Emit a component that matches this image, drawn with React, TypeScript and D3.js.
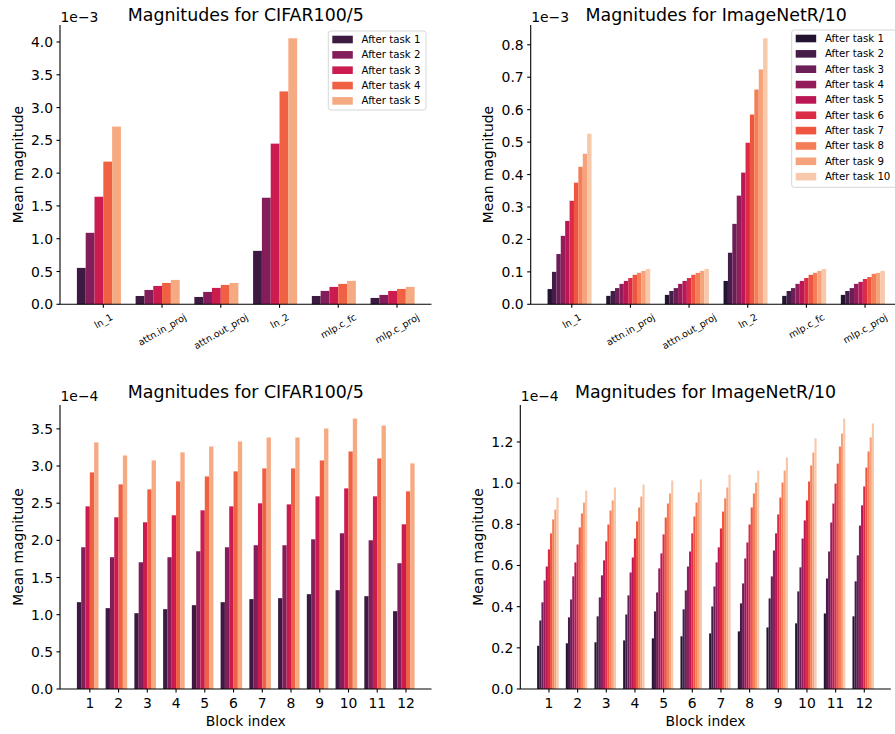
import React, { useEffect, useRef } from 'react';
import * as d3 from 'd3';

// layer names (top row) and block indices (bottom row)
const layerNames = ['ln_1', 'attn.in_proj', 'attn.out_proj', 'ln_2', 'mlp.c_fc', 'mlp.c_proj'];
const blockLabels = ['1', '2', '3', '4', '5', '6', '7', '8', '9', '10', '11', '12'];

// values in units of the offset text (1e-3 top row, 1e-4 bottom row); rows = group, cols = task
const cifarLayer = [
  [0.555, 1.09, 1.64, 2.176, 2.71],
  [0.127, 0.219, 0.28, 0.326, 0.372],
  [0.112, 0.189, 0.25, 0.296, 0.326],
  [0.815, 1.625, 2.45, 3.246, 4.056],
  [0.127, 0.204, 0.265, 0.311, 0.357],
  [0.097, 0.143, 0.204, 0.234, 0.265],
];

const imnetLayer = [
  [0.047, 0.1, 0.155, 0.211, 0.257, 0.319, 0.375, 0.424, 0.464, 0.526],
  [0.026, 0.041, 0.05, 0.063, 0.072, 0.081, 0.091, 0.097, 0.103, 0.109],
  [0.029, 0.041, 0.05, 0.063, 0.072, 0.081, 0.091, 0.097, 0.103, 0.109],
  [0.072, 0.159, 0.248, 0.335, 0.406, 0.498, 0.585, 0.662, 0.724, 0.82],
  [0.026, 0.041, 0.05, 0.063, 0.072, 0.081, 0.091, 0.097, 0.103, 0.109],
  [0.029, 0.041, 0.05, 0.063, 0.069, 0.078, 0.084, 0.094, 0.097, 0.103],
];

const cifarBlock = [
  [1.168, 1.907, 2.457, 2.914, 3.317],
  [1.088, 1.773, 2.31, 2.753, 3.142],
  [1.02, 1.705, 2.243, 2.686, 3.075],
  [1.074, 1.773, 2.337, 2.793, 3.183],
  [1.128, 1.853, 2.404, 2.86, 3.263],
  [1.168, 1.907, 2.457, 2.928, 3.33],
  [1.209, 1.934, 2.498, 2.968, 3.384],
  [1.222, 1.934, 2.484, 2.968, 3.384],
  [1.276, 2.014, 2.592, 3.075, 3.505],
  [1.329, 2.095, 2.699, 3.196, 3.639],
  [1.249, 2.001, 2.592, 3.102, 3.545],
  [1.047, 1.692, 2.216, 2.659, 3.035],
];

const imnetBlock = [
  [0.21, 0.333, 0.421, 0.527, 0.595, 0.678, 0.756, 0.824, 0.872, 0.93],
  [0.222, 0.348, 0.435, 0.547, 0.615, 0.702, 0.785, 0.853, 0.906, 0.964],
  [0.227, 0.353, 0.445, 0.552, 0.625, 0.717, 0.799, 0.867, 0.916, 0.979],
  [0.236, 0.362, 0.455, 0.566, 0.639, 0.731, 0.814, 0.882, 0.935, 0.993],
  [0.246, 0.377, 0.469, 0.586, 0.659, 0.751, 0.833, 0.901, 0.95, 1.013],
  [0.256, 0.387, 0.479, 0.595, 0.668, 0.756, 0.838, 0.906, 0.955, 1.018],
  [0.27, 0.401, 0.498, 0.615, 0.688, 0.78, 0.862, 0.926, 0.979, 1.042],
  [0.28, 0.416, 0.513, 0.634, 0.712, 0.799, 0.882, 0.95, 1.003, 1.061],
  [0.299, 0.44, 0.547, 0.673, 0.756, 0.848, 0.93, 1.003, 1.061, 1.125],
  [0.319, 0.474, 0.591, 0.731, 0.819, 0.916, 1.008, 1.086, 1.149, 1.217],
  [0.367, 0.537, 0.668, 0.809, 0.901, 0.998, 1.095, 1.178, 1.241, 1.314],
  [0.353, 0.523, 0.649, 0.794, 0.892, 0.984, 1.076, 1.154, 1.222, 1.29],
];

const ticksCifarLayer = [0, 0.5, 1, 1.5, 2, 2.5, 3, 3.5, 4];
const ticksImnetLayer = [0, 0.1, 0.2, 0.3, 0.4, 0.5, 0.6, 0.7, 0.8];
const ticksCifarBlock = [0, 0.5, 1, 1.5, 2, 2.5, 3, 3.5];
const ticksImnetBlock = [0, 0.2, 0.4, 0.6, 0.8, 1.0, 1.2];

const rocket5 = ['#3d1a42', '#841e5a', '#cb1b4f', '#f06043', '#f6aa82'];
const rocket10 = ['#231432', '#461c48', '#6b1f56', '#931c5b', '#bb1656', '#dc2b46', '#ef553f', '#f47e57', '#f6a37b', '#f7c8a9'];

const FONT = 'DejaVu Sans, sans-serif';

const panels = [
  { left: 60, right: 431.5, top: 25, bottom: 304.3, title: 'Magnitudes for CIFAR100/5', titleY: 20.5, offset: '1e\u22123', offsetY: 22,
    cats: layerNames, values: cifarLayer, ticks: ticksCifarLayer, colors: rocket5, rotate: true, ylabX: 18.3,
    legend: { x: 328.3, y: 31, w: 97.7, h: 79 } },
  { left: 530.7, right: 901.7, top: 25, bottom: 304.3, title: 'Magnitudes for ImageNetR/10', titleY: 20.5, offset: '1e\u22123', offsetY: 22,
    cats: layerNames, values: imnetLayer, ticks: ticksImnetLayer, colors: rocket10, rotate: true, ylabX: 488.3,
    legend: { x: 791.7, y: 30, w: 112, h: 157.3 } },
  { left: 60, right: 431.5, top: 405, bottom: 689, title: 'Magnitudes for CIFAR100/5', titleY: 398, offset: '1e\u22124', offsetY: 401,
    cats: blockLabels, values: cifarBlock, ticks: ticksCifarBlock, colors: rocket5, rotate: false, ylabX: 18.3, legend: null },
  { left: 520.3, right: 890.8, top: 405, bottom: 689, title: 'Magnitudes for ImageNetR/10', titleY: 398, offset: '1e\u22124', offsetY: 401,
    cats: blockLabels, values: imnetBlock, ticks: ticksImnetBlock, colors: rocket10, rotate: false, ylabX: 478.3, legend: null },
];

function drawPanel(svg: any, p: any) {
  const n = p.colors.length;
  const w = 0.75 / n;
  const lo = -n * w / 2 - w / 2;
  const hi = (p.cats.length - 1) + (n - 1) * w - n * w / 2 + w / 2;
  const pad = (hi - lo) * 0.05;
  const x = d3.scaleLinear().domain([lo - pad, hi + pad]).range([p.left, p.right]);
  const ymax = d3.max(p.values.flat() as number[]) as number;
  const y = d3.scaleLinear().domain([0, ymax * 1.05]).range([p.bottom, p.top]);

  const g = svg.append('g');

  // bars
  p.values.forEach((row: number[], gi: number) => {
    row.forEach((v, ti) => {
      const cx = gi + ti * w - n * w / 2;
      g.append('rect')
        .attr('x', x(cx - w / 2))
        .attr('width', x(cx + w / 2) - x(cx - w / 2))
        .attr('y', y(v))
        .attr('height', y(0) - y(v))
        .attr('fill', p.colors[ti]);
    });
  });

  // spines
  g.append('line').attr('x1', p.left).attr('x2', p.left).attr('y1', p.top).attr('y2', p.bottom)
    .attr('stroke', '#000').attr('stroke-width', 1.1);
  g.append('line').attr('x1', p.left).attr('x2', p.right).attr('y1', p.bottom).attr('y2', p.bottom)
    .attr('stroke', '#000').attr('stroke-width', 1.1);

  // y ticks
  p.ticks.forEach((t: number) => {
    g.append('line').attr('x1', p.left - 3.5).attr('x2', p.left).attr('y1', y(t)).attr('y2', y(t))
      .attr('stroke', '#000').attr('stroke-width', 1.1);
    g.append('text').attr('x', p.left - 7).attr('y', y(t)).attr('text-anchor', 'end')
      .attr('dominant-baseline', 'central').attr('font-size', 13.9).attr('font-family', FONT)
      .text(d3.format('.1f')(t));
  });

  // x ticks
  p.cats.forEach((c: string, gi: number) => {
    const px = x(gi);
    g.append('line').attr('x1', px).attr('x2', px).attr('y1', p.bottom).attr('y2', p.bottom + 3.5)
      .attr('stroke', '#000').attr('stroke-width', 1.1);
    if (p.rotate) {
      const t = g.append('text').attr('text-anchor', 'middle').attr('dominant-baseline', 'central')
        .attr('font-size', 9.5).attr('font-family', FONT).text(c);
      const tw = (t.node() as SVGTextElement).getComputedTextLength();
      const bh = tw * 0.5 + 11 * 0.866;
      t.attr('transform', `translate(${px},${p.bottom + 7 + bh / 2}) rotate(-30)`);
    } else {
      g.append('text').attr('x', px).attr('y', p.bottom + 14).attr('text-anchor', 'middle')
        .attr('dominant-baseline', 'central').attr('font-size', 13.9).attr('font-family', FONT).text(c);
    }
  });

  if (!p.rotate) {
    g.append('text').attr('x', (p.left + p.right) / 2).attr('y', p.bottom + 32).attr('text-anchor', 'middle')
      .attr('dominant-baseline', 'central').attr('font-size', 13.9).attr('font-family', FONT).text('Block index');
  }

  // y label
  g.append('text').attr('transform', `translate(${p.ylabX},${(p.top + p.bottom) / 2}) rotate(-90)`)
    .attr('text-anchor', 'middle').attr('dominant-baseline', 'central')
    .attr('font-size', 13.9).attr('font-family', FONT).text('Mean magnitude');

  // offset text & title
  g.append('text').attr('x', p.left + 0.5).attr('y', p.offsetY).attr('font-size', 13.9).attr('font-family', FONT).text(p.offset);
  g.append('text').attr('x', (p.left + p.right) / 2).attr('y', p.titleY).attr('text-anchor', 'middle')
    .attr('font-size', 17.4).attr('font-family', FONT).text(p.title);

  // legend
  if (p.legend) {
    const L = p.legend;
    g.append('rect').attr('x', L.x).attr('y', L.y).attr('width', L.w).attr('height', L.h).attr('rx', 2.5)
      .attr('fill', '#fff').attr('fill-opacity', 0.8).attr('stroke', '#d6d6d6').attr('stroke-width', 1);
    p.colors.forEach((col: string, i: number) => {
      const cy = L.y + 8.5 + i * 15.35;
      g.append('rect').attr('x', L.x + 4).attr('y', cy - 3.8).attr('width', 20.5).attr('height', 7.6).attr('fill', col);
      g.append('text').attr('x', L.x + 33.3).attr('y', cy).attr('dominant-baseline', 'central')
        .attr('font-size', 10.2).attr('font-family', FONT).text(`After task ${i + 1}`);
    });
  }
}

export default function App() {
  const ref = useRef<SVGSVGElement>(null);
  useEffect(() => {
    const svg = d3.select(ref.current);
    svg.selectAll('*').remove();
    svg.append('rect').attr('width', 895).attr('height', 734).attr('fill', '#fff');
    panels.forEach(p => drawPanel(svg, p));
  }, []);
  return (
    <svg ref={ref} width={895} height={734} style={{ position: 'absolute', left: 0, top: 0, display: 'block' }} />
  );
}
